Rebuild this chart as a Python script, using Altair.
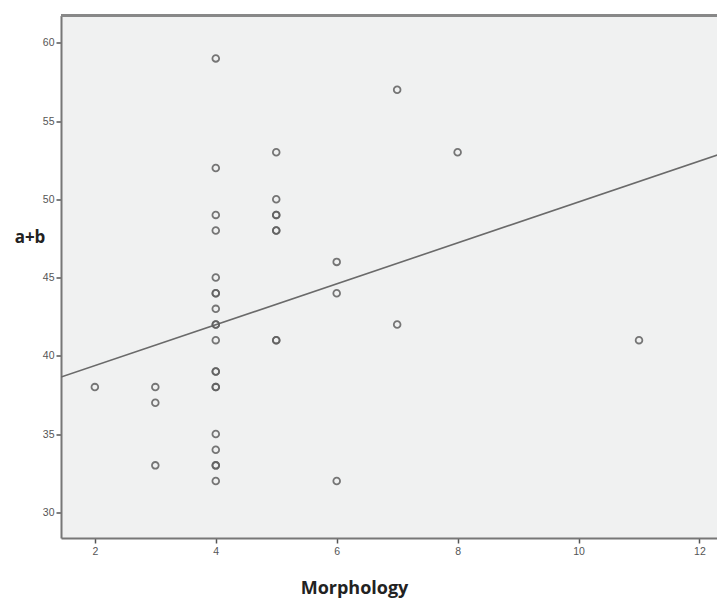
import altair as alt
import pandas as pd

# Data (duplicates mimic the darker overplotted circles)
morphology = [2,
              3, 3, 3,
              4, 4, 4, 4, 4, 4, 4, 4, 4, 4, 4, 4, 4, 4, 4, 4, 4, 4, 4, 4,
              5, 5, 5, 5, 5, 5, 5, 5,
              6, 6, 6,
              7, 7,
              8,
              11]
ab = [38,
      38, 37, 33,
      59, 52, 49, 48, 45, 44, 44, 43, 42, 42, 41, 39, 39, 38, 38, 35, 34, 33, 33, 32,
      53, 50, 49, 49, 48, 48, 41, 41,
      46, 44, 32,
      57, 42,
      53,
      41]

# Fit line end points
line_x = [1.44, 12.43]
line_y = [38.64, 53.0]

x_ticks = [2, 4, 6, 8, 10, 12]
y_ticks = [30, 35, 40, 45, 50, 55, 60]

pts = pd.DataFrame({"Morphology": morphology, "a+b": ab})
fit = pd.DataFrame({"Morphology": line_x, "a+b": line_y})

W, H = 656, 522.5

xscale = alt.Scale(domain=[1.44, 12.29], nice=False, zero=False)
yscale = alt.Scale(domain=[28.36, 61.74], nice=False, zero=False)

xaxis = alt.Axis(values=x_ticks, format="d", title="Morphology", grid=False,
                 domainColor="#777777", domainWidth=2,
                 tickColor="#555555", tickSize=5, tickWidth=1.5,
                 labelFont="Liberation Sans", labelFontSize=10.5, labelColor="#555555",
                 labelPadding=3,
                 titleFont="Open Sans", titleFontSize=18, titleFontWeight="bold",
                 titleColor="#222222", titleX=293, titleY=55,
                 titleAlign="center", titleBaseline="alphabetic")
yaxis = alt.Axis(values=y_ticks, format="d", title="a+b", grid=False,
                 domainColor="#777777", domainWidth=2,
                 tickColor="#555555", tickSize=5, tickWidth=1.5,
                 labelFont="Liberation Sans", labelFontSize=10.5, labelColor="#555555",
                 labelPadding=2,
                 titleFont="Open Sans", titleFontSize=17, titleFontWeight="bold",
                 titleColor="#222222", titleAngle=0, titleX=-31.5, titleY=222,
                 titleAlign="center", titleBaseline="middle")

points = alt.Chart(pts).mark_point(
    shape="circle", filled=False, size=45, stroke="#606060", strokeWidth=1.8, opacity=0.85
).encode(
    x=alt.X("Morphology:Q", scale=xscale, axis=xaxis),
    y=alt.Y("a+b:Q", scale=yscale, axis=yaxis),
)

line = alt.Chart(fit).mark_line(color="#6a6a6a", strokeWidth=1.6, clip=True).encode(
    x=alt.X("Morphology:Q", scale=xscale),
    y=alt.Y("a+b:Q", scale=yscale),
)

top_border = alt.Chart(pts).mark_rule(color="#888888", strokeWidth=2).encode(
    x=alt.value(0), x2=alt.value(W), y=alt.value(0)
)

chart = alt.layer(line, points, top_border).properties(
    width=W, height=H,
    padding={"left": 53, "top": 7.5, "right": 0, "bottom": 66},
    autosize=alt.AutoSizeParams(type="none"),
    view=alt.ViewBackground(fill="#f0f1f1", stroke="transparent"),
).configure_view(
    fill="#f0f1f1", stroke="transparent"
).configure(background="white")

chart.save("out.html", embed_options={"renderer": "svg", "actions": False})
